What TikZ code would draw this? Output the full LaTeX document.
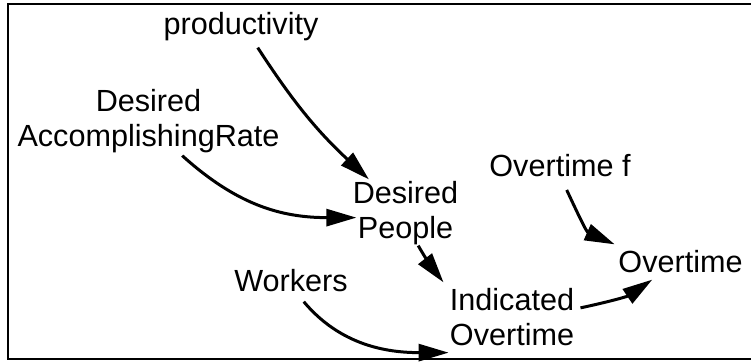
\documentclass[tikz,border=0pt]{standalone}
\usepackage{fontspec}
\setmainfont{Liberation Sans}
\usetikzlibrary{arrows.meta,positioning}
\definecolor{Ink}{HTML}{000000}

\begin{document}
\begin{tikzpicture}[
      x=0.5pt,y=-0.5pt,
      var/.style={inner sep=3pt,align=center,font=\fontsize{15.3}{17.5}\selectfont},
      link/.style={-{Triangle[length=15pt,width=8.5pt]},line width=1.5pt,color=Ink},
      frame/.style={line width=1pt,color=Ink}
    ]
      \useasboundingbox (0,0) rectangle (751,362);
      \draw[frame] (780,4) -- (8,4) -- (8,359) -- (780,359);
      \node[var] (prod) at (241,27) {productivity};
      \node[var] (dar) at (148.5,121.5) {Desired\\AccomplishingRate};
      \node[var] (dpeople) at (405.5,213.5) {Desired\\People};
      \node[var] (ovtf) at (560,166) {Overtime f};
      \node[var] (ovt) at (680.5,262) {Overtime};
      \node[var] (wkr) at (291,281) {Workers};
      \node[var] (iovt) at (512,317.5) {Indicated\\Overtime};
      \draw[link,shorten >=-3pt] (prod.-51) to[out=-57,in=137] (dpeople.137);
      \draw[link,shorten <=-3pt,shorten >=-5pt] (dar.-45) to[out=-42,in=180] (dpeople.184);
      \draw[link,shorten <=-3.5pt] (dpeople.-67) to[out=-60,in=128] (iovt.north west);
      \draw[link] (iovt.8) to[out=12,in=214] (ovt.212);
      \draw[link,shorten <=3.5pt] (ovtf.-78) to[out=-65,in=156] (ovt.165);
      \draw[link,shorten <=2pt] (wkr.-60) to[out=-50,in=180] (iovt.209);
    \end{tikzpicture}
\end{document}
